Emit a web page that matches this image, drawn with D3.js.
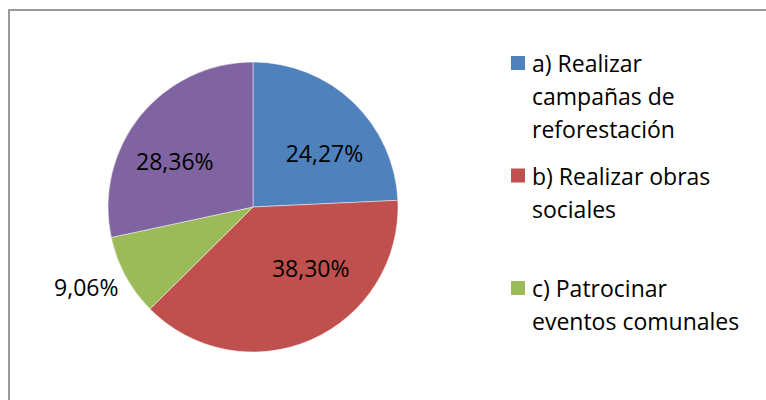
<!DOCTYPE html>
<html>
<head>
<meta charset="utf-8">
<script src="https://cdn.jsdelivr.net/npm/d3@7"></script>
<style>
  html, body { margin: 0; padding: 0; background: #ffffff; }
  svg { display: block; }
  text { font-family: "Open Sans", "Noto Sans", sans-serif; fill: #000; }
</style>
</head>
<body>
<svg id="chart" width="766" height="400"></svg>
<script>
// Survey options (legend names, line breaks marked with \n)
const categories = [
  "a) Realizar\ncampañas de\nreforestación",
  "b) Realizar obras\nsociales",
  "c) Patrocinar\neventos comunales",
  ""
];
// Share of answers, in percent
const values = [24.27, 38.30, 9.06, 28.36];
const colors = ["#4F81BD", "#C0504D", "#9BBB59", "#8064A2"];

// Layout
const W = 766, H = 400;
const cx = 253, cy = 207, radius = 145;
const fontSize = 23;
// label distance from centre and fine offsets for each slice label
const labelRadius = [89, 89, 185, 89];
const labelShift = [[10, 11], [22, -20], [-4, -7], [-9, 11]];
const legendX = 511, legendTop = 72, legendStep = 112.5, lineGap = 33, swatch = 14;

const svg = d3.select("#chart");

// chart frame
svg.append("rect")
  .attr("x", 9).attr("y", 10)
  .attr("width", W + 20).attr("height", H + 20)
  .attr("fill", "#ffffff")
  .attr("stroke", "#9a9a9a")
  .attr("stroke-width", 2);

const locale = d3.formatLocale({ decimal: ",", thousands: ".", grouping: [3], currency: ["", ""] });
const fmt = locale.format(".2f");

const pie = d3.pie().sort(null).value(d => d);
const arcs = pie(values);
const arc = d3.arc().innerRadius(0).outerRadius(radius);

const g = svg.append("g").attr("transform", `translate(${cx},${cy})`);

g.selectAll("path.slice")
  .data(arcs)
  .join("path")
  .attr("class", "slice")
  .attr("d", arc)
  .attr("fill", (d, i) => colors[i])
  .attr("stroke", "#ffffff")
  .attr("stroke-opacity", 0.6)
  .attr("stroke-width", 0.8);

g.selectAll("text.pct")
  .data(arcs)
  .join("text")
  .attr("class", "pct")
  .attr("transform", (d, i) => {
    const [x, y] = d3.arc().innerRadius(labelRadius[i]).outerRadius(labelRadius[i]).centroid(d);
    return `translate(${x + labelShift[i][0]},${y + labelShift[i][1]})`;
  })
  .attr("text-anchor", "middle")
  .attr("dy", "0.35em")
  .style("font-size", fontSize + "px")
  .text(d => fmt(d.data) + "%");

// legend
const legendData = categories
  .map((name, i) => ({ name, color: colors[i] }))
  .filter(d => d.name !== "");

const items = svg.selectAll("g.legend")
  .data(legendData)
  .join("g")
  .attr("class", "legend")
  .attr("transform", (d, i) => `translate(${legendX},${legendTop + i * legendStep})`);

items.append("rect")
  .attr("x", 0).attr("y", -16)
  .attr("width", swatch).attr("height", swatch)
  .attr("fill", d => d.color);

items.append("text")
  .attr("x", 21)
  .style("font-size", fontSize + "px")
  .selectAll("tspan")
  .data(d => d.name.split("\n"))
  .join("tspan")
  .attr("x", 21)
  .attr("y", (d, i) => i * lineGap)
  .text(d => d);
</script>
</body>
</html>
